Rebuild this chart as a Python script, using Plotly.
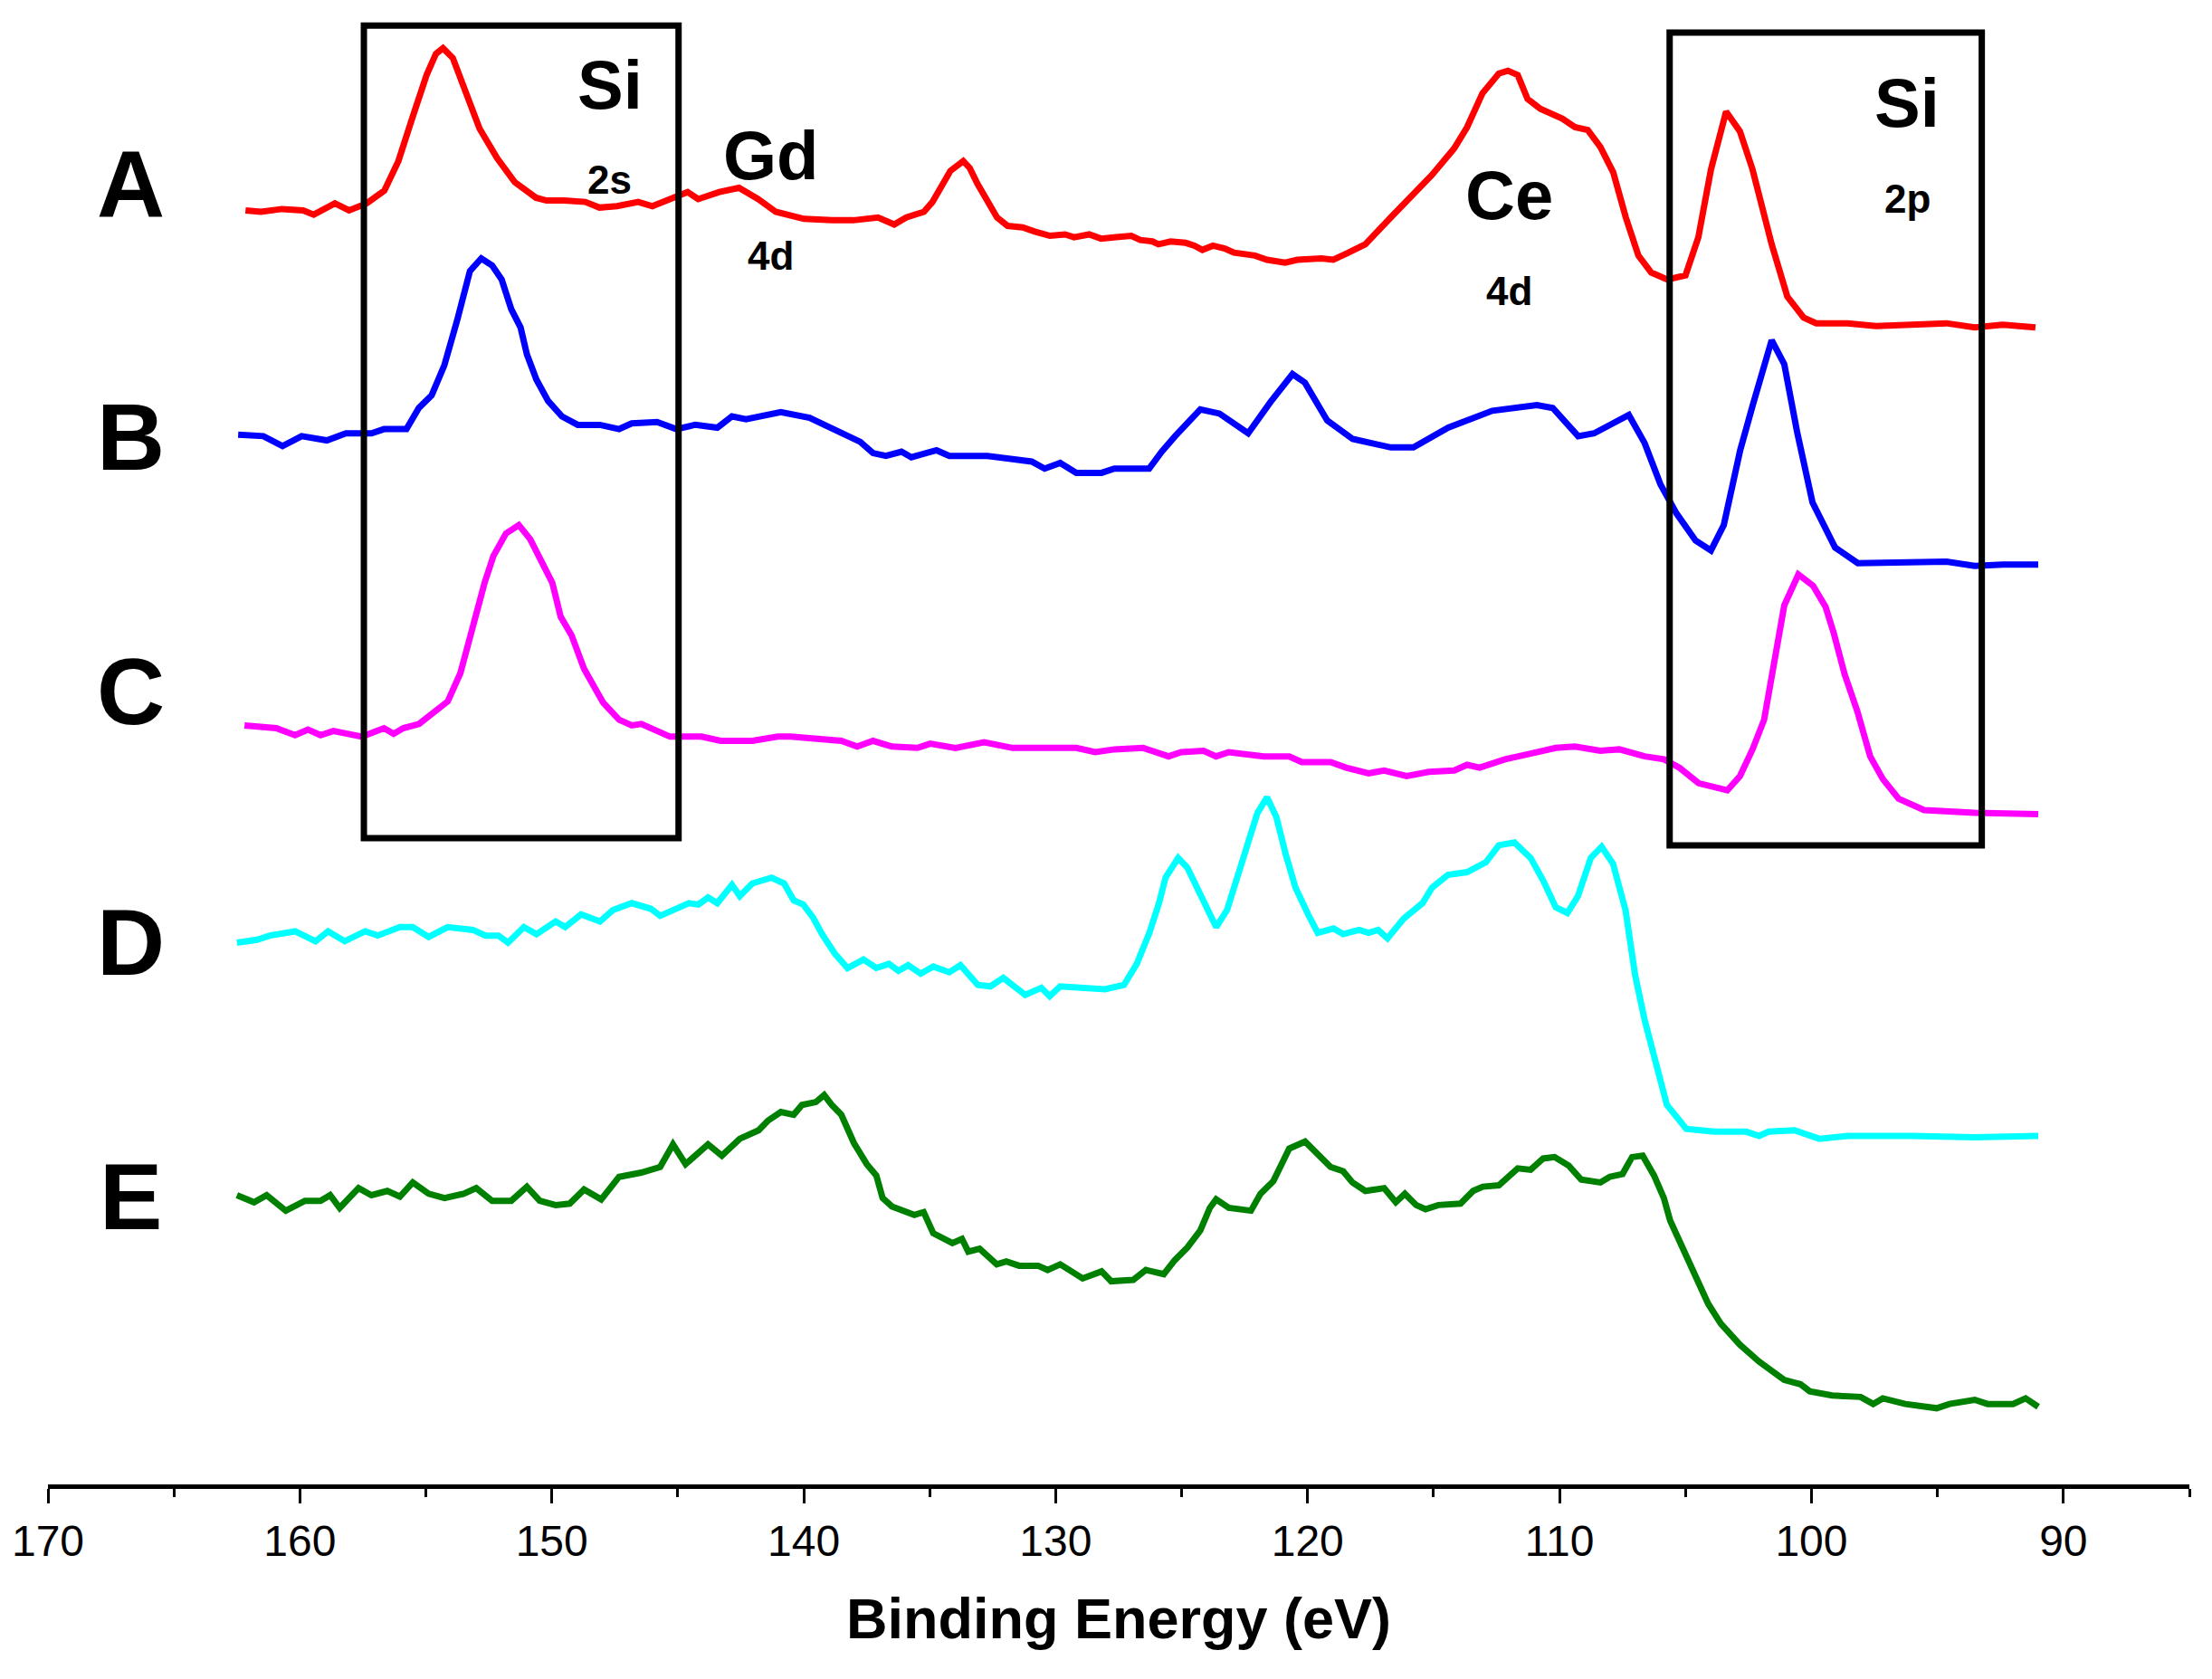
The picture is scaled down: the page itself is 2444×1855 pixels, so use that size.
import plotly.graph_objects as go

# binding energy (eV) and intensity (a.u., stacked)
be_a = [162.16, 161.55, 160.71, 159.87, 159.45, 158.61, 158.05, 157.35, 156.65, 156.09,
        155.53, 154.97, 154.60, 154.32, 153.93, 153.43, 152.87, 152.17, 151.47, 150.63,
        150.21, 149.51, 148.67, 148.11, 147.41, 146.57, 146.01, 145.31, 144.61, 144.19,
        143.35, 142.57, 141.81, 141.11, 140.41, 139.99, 138.87, 138.03, 137.05, 136.41,
        135.93, 135.23, 134.89, 134.42, 134.18, 133.67, 133.41, 133.11, 132.74, 132.33,
        131.91, 131.31, 130.83, 130.23, 129.63, 129.27, 128.67, 128.20, 127.60, 127.00,
        126.64, 126.16, 125.92, 125.44, 124.84, 124.49, 124.18, 123.76, 123.29, 122.92,
        122.09, 121.61, 120.89, 120.41, 119.45, 118.98, 118.38, 118.08, 117.71, 116.70,
        115.69, 115.07, 114.18, 113.67, 113.06, 112.41, 112.05, 111.66, 111.27, 110.76,
        109.89, 109.39, 108.88, 108.38, 107.87, 107.37, 106.87, 106.36, 105.72, 105.00,
        104.49, 103.99, 103.39, 102.84, 102.34, 101.58, 100.96, 100.31, 99.81, 98.56,
        97.44, 96.04, 94.64, 93.52, 92.40, 91.11]
int_a = [903, 902, 904, 903, 900, 908, 903, 908, 917, 938,
         969, 999, 1014, 1018, 1011, 988, 961, 940, 923, 912,
         910, 910, 909, 905, 906, 909, 906, 911, 916, 911,
         916, 919, 911, 902, 899, 897, 896, 896, 898, 893,
         898, 902, 909, 924, 931, 938, 933, 922, 911, 898,
         892, 891, 888, 885, 886, 884, 886, 883, 884, 885,
         882, 881, 879, 881, 880, 878, 875, 878, 876, 873,
         871, 868, 866, 868, 869, 868, 873, 876, 879, 898,
         916, 928, 947, 962, 986, 1000, 1002, 999, 982, 975,
         968, 962, 960, 948, 930, 898, 871, 859, 854, 857,
         884, 932, 973, 959, 932, 879, 842, 827, 823, 823,
         821, 822, 823, 820, 822, 820]

be_b = [162.45, 161.45, 160.69, 159.93, 158.93, 158.17, 157.16, 156.66, 155.77, 155.28,
        154.77, 154.27, 153.76, 153.25, 152.80, 152.37, 151.99, 151.61, 151.24, 150.99,
        150.61, 150.15, 149.60, 148.97, 148.09, 147.33, 146.83, 145.82, 145.06, 144.31,
        143.43, 142.85, 142.29, 140.91, 139.77, 139.27, 138.38, 137.76, 137.25, 136.74,
        136.12, 135.73, 134.73, 134.22, 132.71, 131.95, 130.95, 130.44, 129.82, 129.18,
        128.18, 127.67, 126.29, 125.79, 125.26, 124.26, 123.50, 122.36, 121.48, 120.60,
        120.11, 119.22, 118.21, 116.70, 115.80, 114.42, 112.67, 110.90, 110.27, 109.26,
        108.63, 107.25, 106.62, 106.00, 105.35, 104.60, 103.99, 103.48, 102.83, 102.33,
        101.58, 101.08, 100.57, 99.96, 99.06, 98.16, 96.04, 94.64, 93.52, 92.40, 91.00]
int_b = [744, 743, 736, 743, 740, 745, 745, 748, 748, 763,
         772, 793, 825, 860, 869, 864, 854, 833, 820, 801,
         783, 768, 757, 751, 751, 748, 752, 753, 748, 751,
         749, 757, 755, 760, 756, 752, 745, 739, 731, 729,
         732, 728, 733, 729, 729, 727, 725, 720, 724, 717,
         717, 720, 720, 732, 743, 762, 759, 745, 767, 787,
         781, 754, 741, 735, 735, 749, 761, 765, 763, 743,
         745, 758, 738, 709, 688, 669, 662, 680, 733, 765,
         811, 794, 746, 696, 664, 653, 653, 654, 651, 652, 652]

be_c = [162.20, 160.94, 160.19, 159.68, 159.18, 158.67, 157.54, 156.66, 156.28, 155.90,
        155.27, 154.77, 154.13, 153.63, 153.12, 152.67, 152.32, 151.82, 151.31, 150.86,
        150.35, 149.98, 149.65, 149.22, 148.72, 147.96, 147.33, 146.83, 146.45, 145.95,
        145.31, 144.06, 143.30, 142.04, 141.03, 140.53, 139.52, 138.51, 137.88, 137.25,
        136.50, 135.49, 134.98, 133.98, 132.84, 131.71, 129.18, 128.43, 127.67, 126.53,
        125.52, 125.02, 124.13, 123.63, 123.13, 121.74, 120.73, 120.23, 119.09, 118.47,
        117.58, 116.96, 116.07, 115.19, 114.18, 113.67, 113.17, 112.16, 111.15, 110.15,
        109.39, 108.38, 107.63, 106.62, 105.86, 105.24, 104.48, 103.34, 102.84, 102.34,
        101.88, 101.45, 101.08, 100.52, 99.94, 99.44, 99.11, 98.68, 98.18, 97.67,
        97.17, 96.54, 95.53, 93.52, 91.00]
int_c = [538, 536, 531, 535, 531, 534, 530, 536, 532, 536,
         539, 546, 555, 575, 610, 639, 658, 674, 680, 670,
         652, 639, 615, 602, 578, 554, 542, 538, 539, 535,
         530, 530, 527, 527, 530, 530, 528, 527, 523, 527,
         523, 522, 525, 522, 526, 522, 522, 519, 521, 522,
         516, 519, 520, 516, 519, 516, 516, 512, 512, 508,
         504, 506, 502, 505, 506, 510, 508, 514, 518, 522,
         523, 520, 521, 516, 514, 508, 497, 492, 502, 521,
         542, 587, 623, 645, 637, 622, 603, 574, 548, 516,
         500, 486, 478, 476, 475]

be_d = [162.50, 161.70, 161.19, 160.19, 159.38, 158.88, 158.22, 157.41, 156.91, 156.03,
        155.52, 154.89, 154.14, 153.13, 152.63, 152.12, 151.74, 151.11, 150.61, 149.85,
        149.47, 148.84, 148.09, 147.58, 146.83, 146.07, 145.70, 145.06, 144.56, 144.18,
        143.80, 143.43, 142.85, 142.54, 142.04, 141.28, 140.78, 140.40, 140.02, 139.64,
        139.27, 138.76, 138.26, 137.63, 137.12, 136.62, 136.24, 135.86, 135.36, 134.86,
        134.22, 133.78, 133.09, 132.59, 132.08, 131.58, 131.21, 130.57, 130.24, 129.82,
        128.93, 128.04, 127.29, 126.78, 126.28, 125.90, 125.64, 125.14, 124.77, 124.26,
        123.88, 123.63, 123.20, 122.75, 122.37, 121.99, 121.61, 121.24, 120.86, 120.48,
        119.98, 119.60, 118.97, 118.59, 117.96, 117.58, 117.20, 116.83, 116.19, 115.44,
        115.06, 114.43, 113.67, 112.92, 112.41, 111.79, 111.15, 110.65, 110.15, 109.69,
        109.27, 108.76, 108.33, 107.88, 107.38, 107.00, 106.62, 106.11, 105.74, 104.97,
        103.85, 102.59, 102.08, 101.70, 100.68, 99.69, 98.56, 96.04, 93.52, 91.00]
int_d = [384, 386, 389, 392, 385, 392, 385, 392, 389, 395,
         395, 388, 395, 393, 389, 389, 384, 395, 390, 399,
         395, 404, 399, 407, 412, 408, 403, 408, 412, 411,
         416, 412, 425, 417, 426, 430, 426, 414, 411, 402,
         390, 376, 366, 372, 366, 369, 364, 368, 362, 367,
         363, 368, 354, 353, 359, 352, 347, 352, 346, 353,
         352, 351, 354, 369, 391, 412, 430, 444, 437, 417,
         404, 395, 407, 433, 454, 476, 487, 473, 446, 423,
         404, 391, 394, 390, 393, 391, 393, 387, 401, 412,
         423, 432, 434, 441, 453, 455, 444, 428, 409, 405,
         417, 444, 452, 440, 407, 361, 329, 296, 269, 252,
         250, 250, 247, 250, 251, 245, 247, 247, 246, 247]

be_e = [162.50, 161.82, 161.32, 160.56, 159.80, 159.18, 158.80, 158.42, 157.67, 157.16,
        156.53, 156.03, 155.52, 154.89, 154.26, 153.50, 153.00, 152.37, 151.61, 150.99,
        150.48, 149.85, 149.29, 148.72, 148.04, 147.33, 146.45, 145.70, 145.19, 144.69,
        143.80, 143.25, 142.54, 141.79, 141.41, 140.91, 140.40, 140.07, 139.52, 139.19,
        138.89, 138.51, 138.01, 137.50, 137.12, 136.87, 136.50, 135.61, 135.24, 134.86,
        134.10, 133.72, 133.47, 133.02, 132.34, 131.96, 131.45, 130.70, 130.32, 129.82,
        128.93, 128.18, 127.80, 126.92, 126.42, 125.71, 125.27, 124.77, 124.26, 123.88,
        123.63, 123.13, 122.25, 121.87, 121.36, 120.73, 120.10, 119.60, 119.09, 118.59,
        118.22, 117.71, 116.96, 116.50, 116.14, 115.69, 115.32, 114.81, 113.93, 113.43,
        113.05, 112.41, 111.66, 111.15, 110.65, 110.20, 109.64, 109.14, 108.38, 108.01,
        107.50, 107.12, 106.70, 106.25, 105.86, 105.61, 104.98, 104.48, 104.10, 103.60,
        102.84, 102.08, 101.08, 100.44, 100.07, 99.18, 98.05, 97.55, 97.17, 96.28,
        95.03, 94.52, 93.52, 93.01, 92.00, 91.50, 91.00]
int_e = [205, 200, 205, 194, 201, 201, 205, 196, 210, 205,
         208, 204, 214, 206, 203, 206, 210, 201, 201, 211,
         201, 198, 199, 209, 202, 218, 221, 225, 241, 227,
         241, 233, 245, 251, 258, 264, 262, 269, 271, 276,
         269, 262, 242, 227, 219, 203, 197, 191, 193, 178,
         171, 174, 165, 167, 156, 158, 155, 155, 152, 156,
         146, 151, 144, 145, 152, 149, 159, 168, 180, 196,
         202, 196, 194, 206, 215, 238, 243, 234, 225, 222,
         214, 208, 210, 200, 206, 198, 195, 198, 199, 208,
         211, 212, 224, 223, 231, 232, 226, 216, 214, 218,
         220, 232, 233, 219, 203, 187, 163, 142, 128, 114,
         99, 87, 74, 71, 66, 63, 62, 57, 61, 57,
         54, 57, 60, 57, 57, 61, 55]

series = [
    ("A", be_a, int_a, "#FF0000"),
    ("B", be_b, int_b, "#0000FF"),
    ("C", be_c, int_c, "#FF00FF"),
    ("D", be_d, int_d, "#00FFFF"),
    ("E", be_e, int_e, "#008000"),
]

# sample letters placed at the left of each trace
sample_names = ["A", "B", "C", "D", "E"]
sample_y = [922, 742, 562, 384, 204]

FONT = "Liberation Sans, Arial, sans-serif"

fig = go.Figure()
for name, x, y, color in series:
    fig.add_trace(go.Scatter(x=x, y=y, mode="lines", name=name,
                             line=dict(color=color, width=7)))

# boxes around the Si 2s and Si 2p regions
for x0, x1, y0, y1 in [(157.46, 144.97, 458, 1034), (105.63, 93.24, 453, 1029)]:
    fig.add_shape(type="rect", xref="x", yref="y", x0=x0, x1=x1, y0=y0, y1=y1,
                  line=dict(color="black", width=7), fillcolor="rgba(0,0,0,0)")

for name, yv in zip(sample_names, sample_y):
    fig.add_annotation(x=166.7, y=yv, text=name, showarrow=False,
                       font=dict(family=FONT, size=104, color="black", weight="bold"))

peak_labels = [  # text, x, y, size
    ("Si", 147.7, 992, 76), ("2s", 147.7, 925, 44),
    ("Gd", 141.3, 942, 76), ("4d", 141.3, 871, 44),
    ("Ce", 112.0, 914, 76), ("4d", 112.0, 846, 44),
    ("Si", 96.2, 979, 76), ("2p", 96.2, 911, 44),
]
for txt, xv, yv, sz in peak_labels:
    fig.add_annotation(x=xv, y=yv, text=txt, showarrow=False,
                       font=dict(family=FONT, size=sz, color="black", weight="bold"))

fig.update_xaxes(
    range=[170, 85], showgrid=False, zeroline=False,
    showline=True, linecolor="black", linewidth=5,
    ticks="outside", ticklen=16, tickwidth=3, tickcolor="black",
    dtick=10, tick0=170,
    minor=dict(dtick=5, ticks="outside", ticklen=9, tickwidth=3, tickcolor="black"),
    tickfont=dict(family=FONT, size=48, color="black"),
    title=dict(text="Binding Energy (eV)", standoff=40,
               font=dict(family=FONT, size=63, color="black", weight="bold")),
)
fig.update_yaxes(range=[0, 1047], visible=False)

# page body has an 8px margin, so the figure is 8px smaller than the window
fig.update_layout(
    width=2436, height=1847,
    margin=dict(l=45, r=25, t=0, b=215),
    paper_bgcolor="white", plot_bgcolor="white",
    showlegend=False,
)

fig.write_html("out.html")
